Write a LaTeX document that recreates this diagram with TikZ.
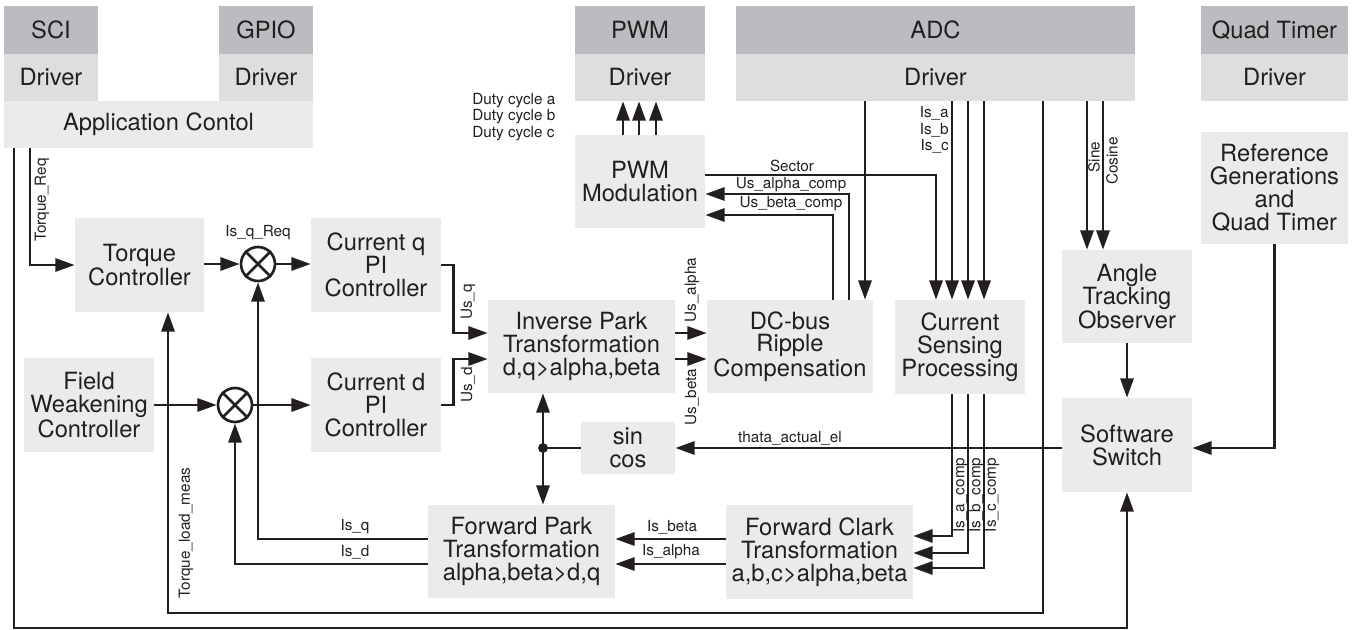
\documentclass[tikz,border=0pt]{standalone}
\usepackage{fontspec}
\setmainfont{TeX Gyre Heros}
\usetikzlibrary{arrows.meta,calc}
\definecolor{hdrgray}{RGB}{187,188,191}
\definecolor{drvgray}{RGB}{221,222,224}
\definecolor{blkgray}{RGB}{235,235,237}
\definecolor{ink}{RGB}{35,31,32}
\newcommand{\boxfont}{\fontsize{13.5}{13}\selectfont}
\newcommand{\lblfont}{\fontsize{8.7}{9.3}\selectfont}

\begin{document}
\begin{tikzpicture}[x=0.02cm,y=-0.02cm,>={Triangle[length=11pt,width=7.5pt]},
    box/.style 2 args={fill=blkgray,inner sep=0pt,align=center,font=\boxfont,text=ink,
      minimum width=#1,minimum height=#2},
    hdr/.style={box={#1}{0.96cm},fill=hdrgray},
    drv/.style={box={#1}{0.94cm},fill=drvgray},
    wire/.style={draw=ink,line width=1.5pt},
    sig/.style={wire,->},
    lbl/.style={font=\lblfont,text=ink,inner sep=0pt},
    sumnode/.style={circle,draw=ink,line width=1.5pt,minimum size=0.68cm,inner sep=0pt}]
    \useasboundingbox (0,0) rectangle (1354,629);

    \node[hdr=1.88cm] (sci) at (51,30) {SCI};
    \node[drv=1.88cm] (scidrv) at (51,77.5) {Driver};
    \node[hdr=1.88cm] (gpio) at (266,30) {GPIO};
    \node[drv=1.88cm] (gpiodrv) at (266,77.5) {Driver};
    \node[box={6.18cm}{0.94cm}] (app) at (158.5,124.5) {Application Contol};
    \node[hdr=2.6cm] (pwm) at (640,30) {PWM};
    \node[drv=2.6cm] (pwmdrv) at (640,77.5) {Driver};
    \node[hdr=7.98cm] (adc) at (935.5,30) {ADC};
    \node[drv=7.98cm] (adcdrv) at (935.5,77.5) {Driver};
    \node[hdr=2.94cm] (qt) at (1274.5,30) {Quad Timer};
    \node[drv=2.94cm] (qtdrv) at (1274.5,77.5) {Driver};

    \node[box={2.6cm}{1.86cm}] (pwmmod) at (640,181.5) {PWM\\Modulation};
    \node[box={2.58cm}{1.88cm}] (tq) at (139.5,265) {Torque\\Controller};
    \node[box={2.6cm}{1.88cm}] (cq) at (376,265) {Current q\\PI\\Controller};
    \node[box={2.6cm}{1.88cm}] (fw) at (89,405) {Field\\Weakening\\Controller};
    \node[box={2.6cm}{1.88cm}] (cd) at (376,405) {Current d\\PI\\Controller};
    \node[box={3.74cm}{1.86cm}] (ipark) at (581.5,346.5) {Inverse Park\\Transformation\\d,q>alpha,beta};
    \node[box={3.32cm}{1.86cm}] (dcbus) at (790,346.5) {DC-bus\\Ripple\\Compensation};
    \node[box={2.6cm}{1.88cm}] (cs) at (960,347) {Current\\Sensing\\Processing};
    \node[box={2.6cm}{1.86cm}] (ato) at (1127,296.5) {Angle\\Tracking\\Observer};
    \node[box={2.94cm}{2.24cm}] (ref) at (1274.5,188) {Reference\\Generations\\and\\Quad Timer};
    \node[box={2.6cm}{1.88cm}] (sw) at (1127,445) {Software\\Switch};
    \node[box={1.88cm}{1.04cm}] (sincos) at (628,448) {sin\\cos};
    \node[box={3.74cm}{1.86cm}] (fpark) at (521.5,551.5) {Forward Park\\Transformation\\alpha,beta>d,q};
    \node[box={3.74cm}{1.88cm}] (fclark) at (819.5,552) {Forward Clark\\Transformation\\a,b,c>alpha,beta};

    \node[sumnode] (sumq) at (258,264) {};
    \node[sumnode] (sumd) at (235,405) {};
    \foreach \s in {sumq,sumd}
      \draw[wire] (\s.north east) -- (\s.south west) (\s.north west) -- (\s.south east);
    \coordinate (jn) at (543,448);

    \foreach \x in {623,639,656}
      \draw[sig] (pwmmod.north -| \x,0) -- (pwmdrv.south -| \x,0);
    \draw[sig] (pwmmod.east |- 0,175) -| (cs.north -| 936,0);
    \draw[sig] (dcbus.north -| 849,0) |- (pwmmod.east |- 0,194);
    \draw[sig] (dcbus.north -| 833,0) |- (pwmmod.east |- 0,215);
    \draw[sig] (adcdrv.south -| 865,0) -- (dcbus.north -| 865,0);
    \foreach \x in {952,968,984}
      \draw[sig] (adcdrv.south -| \x,0) -- (cs.north -| \x,0);
    \foreach \x in {1087,1103}
      \draw[sig] (adcdrv.south -| \x,0) -- (ato.north -| \x,0);
    \draw[sig] (adcdrv.south -| 1043,0) |- (168,613) -- (tq.south -| 168,0);
    \draw[sig] (app.south -| 14,0) |- (sw.south |- 0,628) -- (sw.south);
    \draw[sig] (app.south -| 30,0) |- (tq.west);
    \draw[sig] (tq.east |- sumq) -- (sumq.west);
    \draw[sig] (sumq.east) -- (cq.west |- sumq);
    \draw[sig] (fw.east) -- (sumd.west);
    \draw[sig] (sumd.east) -- (cd.west);
    \draw[sig] (cq.east) -- ++(12,0) |- (ipark.west |- 0,333);
    \draw[sig] (cd.east) -- ++(12,0) |- (ipark.west |- 0,359);
    \draw[sig] (ipark.east |- 0,333) -- (dcbus.west |- 0,333);
    \draw[sig] (ipark.east |- 0,359) -- (dcbus.west |- 0,359);
    \draw[sig] (sw.west |- sincos) -- (sincos.east);
    \draw[wire] (sincos.west) -- (jn);
    \draw[sig] (jn) -- (ipark.south -| jn);
    \draw[sig] (jn) -- (fpark.north -| jn);
    \fill[ink] (jn) circle (2.8pt);
    \draw[sig] (ref.south) |- (sw.east |- 0,448);
    \draw[sig] (ato.south) -- (sw.north);
    \draw[sig] (cs.south -| 952,0) |- (fclark.east |- 0,536);
    \draw[sig] (cs.south -| 968,0) |- (fclark.east |- 0,553);
    \draw[sig] (cs.south -| 984,0) |- (fclark.east |- 0,568);
    \draw[sig] (fclark.west |- 0,539) -- (fpark.east |- 0,539);
    \draw[sig] (fclark.west |- 0,564) -- (fpark.east |- 0,564);
    \draw[sig] (fpark.west |- 0,539) -| (sumq.south);
    \draw[sig] (fpark.west |- 0,564) -| (sumd.south);

    \node[lbl,align=left,anchor=west] (duty) at (472,117) {Duty cycle a\\Duty cycle b\\Duty cycle c};
    \node[lbl,align=right,anchor=east] (isabc) at (949,130) {Is\_a\\Is\_b\\Is\_c};
    \node[lbl] (sector) at (792,166) {Sector};
    \node[lbl] (usac) at (791,185) {Us\_alpha\_comp};
    \node[lbl] (usbc) at (791,204) {Us\_beta\_comp};
    \node[lbl,rotate=90] (sine) at (1094,157) {Sine};
    \node[lbl,rotate=90] (cosine) at (1112,161) {Cosine};
    \node[lbl,rotate=90] (treq) at (42,200) {Torque\_Req};
    \node[lbl] (isqreq) at (258,233) {Is\_q\_Req};
    \node[lbl,rotate=90] (usq) at (468,302) {Us\_q};
    \node[lbl,rotate=90] (usd) at (468,385) {Us\_d};
    \node[lbl,rotate=90] (usa) at (692,290) {Us\_alpha};
    \node[lbl,rotate=90] (usb) at (692,397) {Us\_beta};
    \node[lbl] (theta) at (790,438) {thata\_actual\_el};
    \node[lbl] (isq) at (355,527) {Is\_q};
    \node[lbl] (isd) at (355,552) {Is\_d};
    \node[lbl,rotate=90] (tload) at (186,533) {Torque\_load\_meas};
    \node[lbl] (isb) at (672,527) {Is\_beta};
    \node[lbl] (isa) at (671,552) {Is\_alpha};
    \node[lbl,rotate=90] (isac) at (960.5,495) {Is\_a\_comp};
    \node[lbl,rotate=90] (isbc) at (976.5,495) {Is\_b\_comp};
    \node[lbl,rotate=90] (iscc) at (992,495) {Is\_c\_comp};
  \end{tikzpicture}
\end{document}
